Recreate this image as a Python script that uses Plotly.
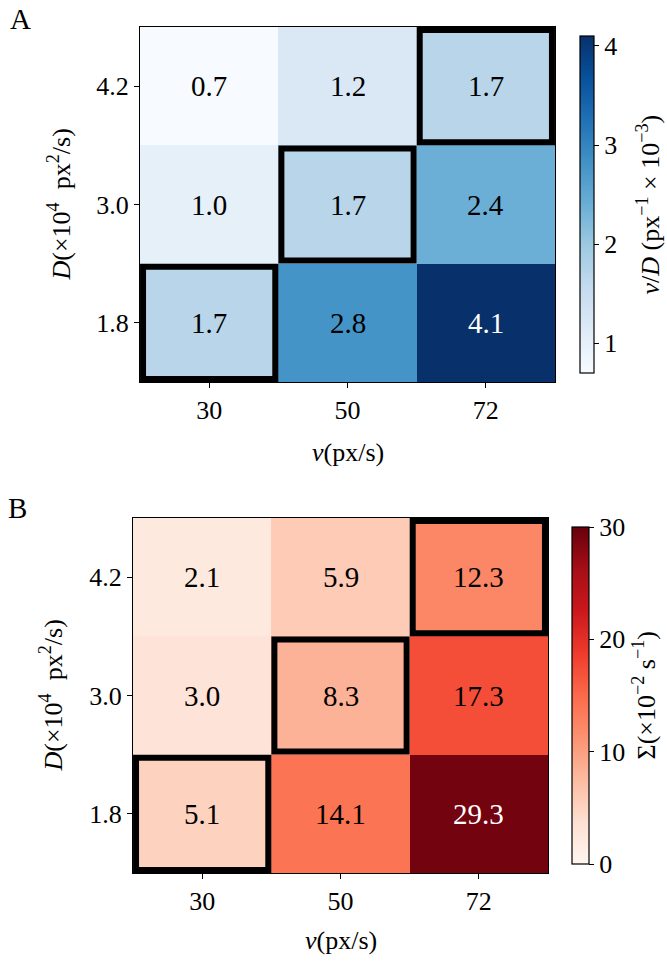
import plotly.graph_objects as go
from plotly.colors import sequential

# Velocity (columns) and diffusion (rows, bottom to top) categories
v_labels = ["30", "50", "72"]
D_labels = ["1.8", "3.0", "4.2"]

# v/D in units of px^-1 x 10^-3 ; rows follow D_labels
ratio_vD = [
    [1.7, 2.8, 4.1],
    [1.0, 1.7, 2.4],
    [0.7, 1.2, 1.7],
]
# Sigma in units of 10^-2 s^-1 ; rows follow D_labels
sigma = [
    [5.1, 14.1, 29.3],
    [3.0, 8.3, 17.3],
    [2.1, 5.9, 12.3],
]
# (column, row) cells outlined in bold
highlight = [(0, 0), (1, 1), (2, 2)]

cbar_ticks_A = [1, 2, 3, 4]
cbar_ticks_B = [0, 10, 20, 30]

W, H = 667, 962
FONT = "Liberation Serif"
TICK_SIZE = 26
TITLE_SIZE = 26
CELL_SIZE = 29


def px(x):
    return x / W


def py(y):
    return 1 - y / H


panels = [
    dict(name="A", z=ratio_vD, cs=sequential.Blues, zmin=None, zmax=None,
         ticks=cbar_ticks_A,
         plot=(140, 555, 27, 382), cbar=(580, 36, 373), cbar_w=14,
         cbar_title="<i>v</i>/<i>D</i> (px<sup>−1</sup> × 10<sup>−3</sup>)",
         cbar_title_x=649, letter=(20, 19), ytitle_x=60, xtitle_y=452),
    dict(name="B", z=sigma, cs=sequential.Reds, zmin=0, zmax=30,
         ticks=cbar_ticks_B,
         plot=(133, 548, 518, 873), cbar=(572, 527, 864), cbar_w=17,
         cbar_title="Σ(×10<sup>−2</sup> s<sup>−1</sup>)",
         cbar_title_x=645, letter=(17, 508), ytitle_x=52, xtitle_y=940),
]

fig = go.Figure()
annotations = []
shapes = []

for k, p in enumerate(panels):
    xa = "x" if k == 0 else "x2"
    ya = "y" if k == 0 else "y2"
    x0, x1, y0, y1 = p["plot"]
    cx, ctop, cbot = p["cbar"]
    zflat = [v for row in p["z"] for v in row]
    zmin = p["zmin"] if p["zmin"] is not None else min(zflat)
    zmax = p["zmax"] if p["zmax"] is not None else max(zflat)

    fig.add_trace(go.Heatmap(
        z=p["z"], x=list(range(len(v_labels))), y=list(range(len(D_labels))),
        xaxis=xa, yaxis=ya,
        colorscale=p["cs"], zmin=zmin, zmax=zmax,
        hoverinfo="skip",
        colorbar=dict(
            x=px(cx), xanchor="left", xref="paper",
            y=py((ctop + cbot) / 2), yanchor="middle", yref="paper",
            len=(cbot - ctop) / H, lenmode="fraction",
            thickness=p["cbar_w"], thicknessmode="pixels",
            outlinecolor="black", outlinewidth=1.2,
            tickmode="array", tickvals=p["ticks"],
            ticks="outside", ticklen=5, tickcolor="black",
            tickfont=dict(family=FONT, size=TICK_SIZE, color="black"),
            xpad=0, ypad=0,
        ),
    ))

    # cell value labels
    for j, row in enumerate(p["z"]):
        for i, val in enumerate(row):
            frac = (val - zmin) / (zmax - zmin)
            annotations.append(dict(
                x=i, y=j, xref=xa, yref=ya, text=f"{val:.1f}",
                showarrow=False,
                font=dict(family=FONT, size=CELL_SIZE,
                          color="white" if frac > 0.75 else "black"),
            ))

    # bold outlines around selected cells
    for (i, j) in highlight:
        shapes.append(dict(
            type="rect", xref=xa, yref=ya,
            x0=i - 0.5 + 0.022, x1=i + 0.5 - 0.022,
            y0=j - 0.5 + 0.026, y1=j + 0.5 - 0.026,
            line=dict(color="black", width=6),
        ))

    axis_common = dict(
        tickmode="array", ticks="outside", ticklen=5, tickcolor="black",
        tickfont=dict(family=FONT, size=TICK_SIZE, color="black"),
        showline=True, linecolor="black", linewidth=1.2, mirror=True,
        showgrid=False, zeroline=False, fixedrange=True,
    )
    fig.layout[("xaxis" if k == 0 else "xaxis2")] = dict(
        axis_common, domain=[px(x0), px(x1)], anchor=ya,
        range=[-0.5, len(v_labels) - 0.5],
        tickvals=list(range(len(v_labels))), ticktext=v_labels,
    )
    fig.layout[("yaxis" if k == 0 else "yaxis2")] = dict(
        axis_common, domain=[py(y1), py(y0)], anchor=xa,
        range=[-0.5, len(D_labels) - 0.5],
        tickvals=list(range(len(D_labels))), ticktext=D_labels,
    )

    # axis titles, colorbar title and panel letter
    annotations.append(dict(
        x=px((x0 + x1) / 2), y=py(p["xtitle_y"]), xref="paper", yref="paper",
        text="<i>v</i>(px/s)", showarrow=False,
        font=dict(family=FONT, size=TITLE_SIZE, color="black"),
        xanchor="center", yanchor="middle",
    ))
    annotations.append(dict(
        x=px(p["ytitle_x"]), y=py((y0 + y1) / 2), xref="paper", yref="paper",
        text="<i>D</i>(×10<sup>4</sup>  px<sup>2</sup>/s)", showarrow=False,
        textangle=-90, font=dict(family=FONT, size=TITLE_SIZE, color="black"),
        xanchor="center", yanchor="middle",
    ))
    annotations.append(dict(
        x=px(p["cbar_title_x"]), y=py((ctop + cbot) / 2), xref="paper", yref="paper",
        text=p["cbar_title"], showarrow=False, textangle=-90,
        font=dict(family=FONT, size=TITLE_SIZE, color="black"),
        xanchor="center", yanchor="middle",
    ))
    annotations.append(dict(
        x=px(p["letter"][0]), y=py(p["letter"][1]), xref="paper", yref="paper",
        text=p["name"], showarrow=False,
        font=dict(family=FONT, size=29, color="black"),
        xanchor="center", yanchor="middle",
    ))

fig.update_layout(
    width=W, height=H,
    margin=dict(l=0, r=0, t=0, b=0),
    paper_bgcolor="white", plot_bgcolor="white",
    annotations=annotations, shapes=shapes,
    showlegend=False,
)

fig.write_html("out.html")
